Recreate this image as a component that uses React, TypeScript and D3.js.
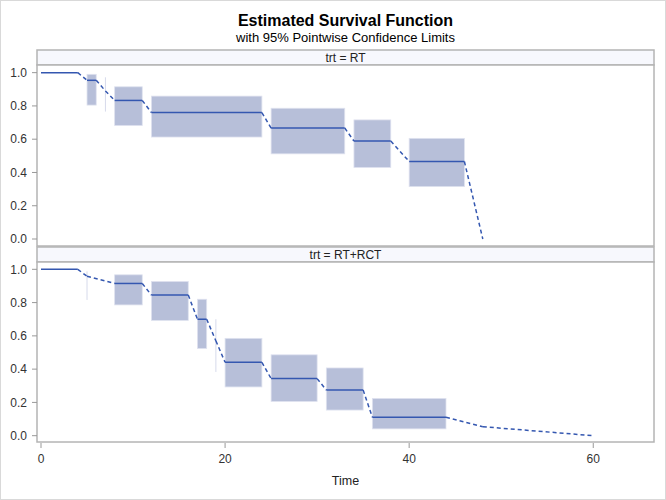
import * as d3 from "d3";

// Turnbull-style intervals per group: step start, step end, estimate, lower/upper CL
const rtStart = [0, 5, 7, 8, 12, 25, 34, 40, 48];
const rtEnd = [4, 6, 7, 11, 24, 33, 38, 46, 48];
const rtSurv = [1.0, 0.954, 0.89, 0.833, 0.76, 0.667, 0.589, 0.466, 0.0];
const rtLower = [1.0, 0.805, 0.766, 0.682, 0.613, 0.512, 0.43, 0.315, 0.0];
const rtUpper = [1.0, 0.99, 0.972, 0.915, 0.859, 0.786, 0.716, 0.605, 0.0];

const rctStart = [0, 5, 8, 12, 17, 19, 20, 25, 31, 36, 48, 60];
const rctEnd = [4, 5, 11, 16, 18, 19, 24, 30, 35, 44, 48, 60];
const rctSurv = [1.0, 0.958, 0.915, 0.845, 0.7, 0.57, 0.441, 0.343, 0.274, 0.111, 0.054, 0.0];
const rctLower = [1.0, 0.816, 0.786, 0.693, 0.524, 0.383, 0.293, 0.206, 0.154, 0.041, 0.054, 0.0];
const rctUpper = [1.0, 0.988, 0.967, 0.927, 0.82, 0.7, 0.585, 0.486, 0.407, 0.224, 0.054, 0.0];

const groups = ["RT", "RT+RCT"];
const xTicks = [0, 20, 40, 60];
const yTicks = [0, 0.2, 0.4, 0.6, 0.8, 1.0];

const W = 666;
const H = 500;
const left = 37;
const right = 654;
const LINE = "#3457b0";
const BAND = "#b7bfd9";
const FONT = "'Liberation Sans', Arial, sans-serif";

const panels = [
  { label: groups[0], stripTop: 50, top: 65, bottom: 246, yDom: [-0.042, 1.046],
    start: rtStart, end: rtEnd, surv: rtSurv, lower: rtLower, upper: rtUpper },
  { label: groups[1], stripTop: 247, top: 262, bottom: 442, yDom: [-0.038, 1.044],
    start: rctStart, end: rctEnd, surv: rctSurv, lower: rctLower, upper: rctUpper },
];

const x = d3.scaleLinear().domain([-0.435, 66.6]).range([left, right]);

function Panel({ p }: { p: (typeof panels)[number] }) {
  const y = d3.scaleLinear().domain(p.yDom).range([p.bottom, p.top]);
  const n = p.start.length;
  return (
    <g>
      <rect x={left} y={p.stripTop} width={right - left} height={p.top - p.stripTop}
        fill="#f7f8fd" stroke="#b4b4b4" strokeWidth={1.5} />
      <text x={(left + right) / 2} y={p.stripTop + 11.5} textAnchor="middle"
        fontSize={12} fill="#222">{`trt = ${p.label}`}</text>
      <rect x={left} y={p.top} width={right - left} height={p.bottom - p.top}
        fill="#fff" stroke="#b4b4b4" strokeWidth={1.5} />

      {p.start.map((s, i) => {
        const w = x(p.end[i]) - x(s);
        const h = y(p.lower[i]) - y(p.upper[i]);
        if (h <= 0) return null;
        if (w <= 0)
          return <line key={i} x1={x(s)} x2={x(s)} y1={y(p.upper[i])} y2={y(p.lower[i])}
            stroke="#d6daeb" strokeWidth={1} />;
        return <rect key={i} x={x(s)} y={y(p.upper[i])} width={w} height={h}
          fill={BAND} stroke="#dfe2ef" strokeWidth={0.8} />;
      })}

      {p.start.map((s, i) =>
        p.end[i] > s ? (
          <line key={i} x1={x(s)} x2={x(p.end[i])} y1={y(p.surv[i])} y2={y(p.surv[i])}
            stroke={LINE} strokeWidth={1.5} />
        ) : null
      )}

      {d3.range(n - 1).map((i) => (
        <line key={i} x1={x(p.end[i])} y1={y(p.surv[i])} x2={x(p.start[i + 1])} y2={y(p.surv[i + 1])}
          stroke={LINE} strokeWidth={1.5} strokeDasharray="4,3" />
      ))}

      {yTicks.map((t) => (
        <g key={t}>
          <line x1={left - 5} x2={left} y1={y(t)} y2={y(t)} stroke="#999" />
          <text x={left - 10} y={y(t)} dy="0.35em" textAnchor="end" fontSize={12} fill="#333">
            {t.toFixed(1)}
          </text>
        </g>
      ))}
    </g>
  );
}

export default function App() {
  const bottom = panels[1].bottom;
  return (
    <svg width={W} height={H} style={{ position: "absolute", left: 0, top: 0 }} fontFamily={FONT}>
      <rect x={0.5} y={0.5} width={W - 1} height={H - 1} fill="#fff" stroke="#d9d9d9" />
      <text x={(left + right) / 2} y={26} textAnchor="middle" fontSize={16} fontWeight="bold" fill="#000">
        Estimated Survival Function
      </text>
      <text x={(left + right) / 2} y={42} textAnchor="middle" fontSize={13} fill="#000">
        with 95% Pointwise Confidence Limits
      </text>
      {panels.map((p) => <Panel key={p.label} p={p} />)}
      {xTicks.map((t) => (
        <g key={t}>
          <line x1={x(t)} x2={x(t)} y1={bottom + 1} y2={bottom + 6} stroke="#999" />
          <text x={x(t)} y={463} textAnchor="middle" fontSize={12} fill="#333">{t}</text>
        </g>
      ))}
      <text x={(left + right) / 2} y={485} textAnchor="middle" fontSize={12.5} fill="#222">Time</text>
    </svg>
  );
}
